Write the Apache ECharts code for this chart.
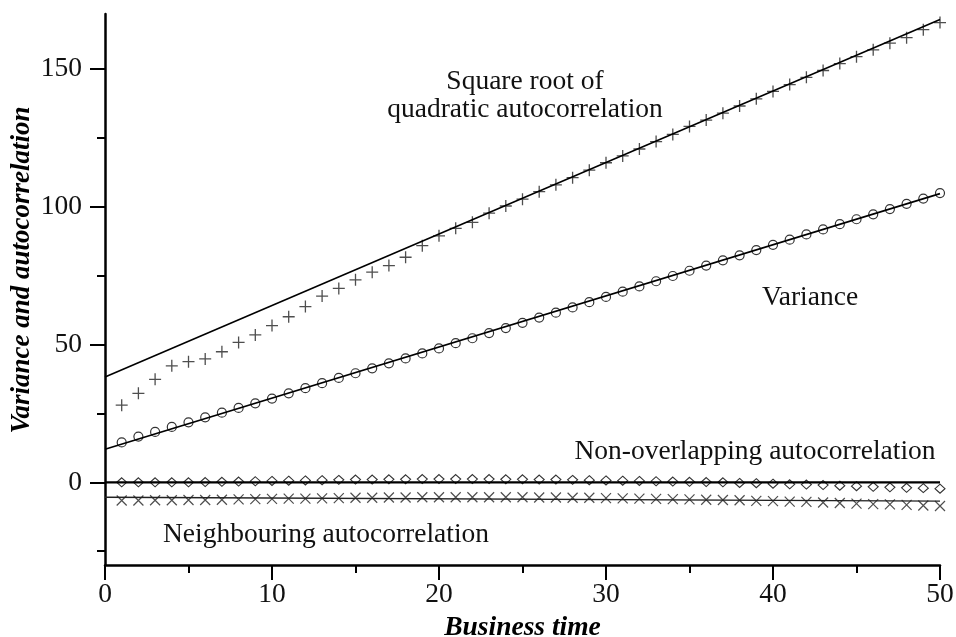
<!DOCTYPE html>
<html>
<head>
<meta charset="utf-8">
<script src="https://cdn.jsdelivr.net/npm/echarts@6/dist/echarts.min.js"></script>
<style>
  html, body { margin: 0; padding: 0; background: #fff; }
  #chart { width: 956px; height: 637px; }
</style>
</head>
<body>
<div id="chart"></div>
<script>
// business time 1..50
const businessTime = [];
for (let t = 1; t <= 50; t++) businessTime.push(t);

// square root of quadratic autocorrelation (+)
const sqrtQuadY = [
  28.0, 32.3, 37.4, 42.3, 43.8, 44.8, 47.4, 50.8, 53.5, 56.9,
  60.1, 63.8, 67.6, 70.4, 73.5, 76.3, 78.7, 81.7, 85.9, 89.5,
  92.2, 94.4, 97.7, 100.3, 102.8, 105.5, 108.0, 110.6, 113.3, 116.0,
  118.5, 121.0, 123.7, 126.3, 129.2, 131.5, 134.0, 136.6, 139.2, 141.9,
  144.4, 147.0, 149.5, 152.0, 154.5, 157.0, 159.4, 161.4, 164.3, 166.9
];
// variance (o)
const varianceY = [
  14.5, 16.6, 18.3, 20.1, 21.8, 23.6, 25.3, 27.0, 28.7, 30.4,
  32.3, 34.2, 36.0, 37.9, 39.6, 41.4, 43.2, 45.0, 46.8, 48.6,
  50.5, 52.3, 54.2, 56.0, 57.9, 59.8, 61.6, 63.5, 65.4, 67.3,
  69.2, 71.1, 73.0, 74.9, 76.8, 78.7, 80.6, 82.4, 84.3, 86.2,
  88.1, 90.0, 91.8, 93.7, 95.5, 97.3, 99.2, 101.1, 103.0, 105.0
];
// non-overlapping autocorrelation (diamond)
const nonOverlapY = [
  0.0, 0.0, 0.0, 0.0, 0.0, 0.1, 0.2, 0.3, 0.4, 0.5,
  0.6, 0.7, 0.8, 0.9, 1.0, 1.0, 1.1, 1.1, 1.2, 1.2,
  1.2, 1.2, 1.2, 1.1, 1.1, 1.0, 1.0, 0.9, 0.8, 0.7,
  0.6, 0.5, 0.4, 0.3, 0.2, 0.1, 0.0, -0.2, -0.3, -0.5,
  -0.7, -0.8, -1.0, -1.2, -1.4, -1.6, -1.8, -2.0, -2.1, -2.3
];
// neighbouring autocorrelation (x)
const neighbourY = [
  -6.6, -6.6, -6.5, -6.5, -6.4, -6.4, -6.3, -6.2, -6.1, -6.0,
  -5.9, -5.9, -5.8, -5.7, -5.6, -5.6, -5.5, -5.5, -5.4, -5.4,
  -5.4, -5.4, -5.4, -5.4, -5.4, -5.5, -5.5, -5.6, -5.6, -5.7,
  -5.8, -5.9, -6.0, -6.1, -6.2, -6.3, -6.4, -6.5, -6.7, -6.8,
  -7.0, -7.1, -7.3, -7.5, -7.7, -7.9, -8.0, -8.2, -8.4, -8.6
];

// fitted straight lines (start, end)
const fitX = [0, 50];
const sqrtQuadFit = [38.2, 168.0];
const varianceFit = [12.0, 104.8];
const nonOverlapFit = [0.0, 0.0];
const neighbourFit = [-5.4, -6.8];

// tick labels
const yLabelValues = [0, 50, 100, 150];
const yMinorValues = [-25, 25, 75, 125];

const serif = "'Liberation Serif', 'DejaVu Serif', serif";
const fs = 27.5;

function pairs(xs, ys) {
  return xs.map((x, i) => [x, ys[i]]);
}

const chart = echarts.init(document.getElementById("chart"));

const option = {
  animation: false,
  backgroundColor: "#fff",
  grid: { left: 105, right: 16, top: 14, bottom: 72, outerBoundsMode: "none", containLabel: false },
  xAxis: {
    type: "value",
    min: 0,
    max: 50,
    interval: 10,
    name: "Business time",
    nameLocation: "middle",
    nameGap: 45,
    nameTextStyle: { fontFamily: serif, fontSize: fs, fontWeight: "bold", fontStyle: "italic", color: "#000" },
    axisLine: { onZero: false, lineStyle: { color: "#000", width: 2.5 } },
    axisTick: { length: 15, lineStyle: { color: "#000", width: 2 } },
    minorTick: { show: true, splitNumber: 2, length: 8, lineStyle: { color: "#000", width: 2 } },
    axisLabel: { margin: 16, fontFamily: serif, fontSize: fs, color: "#111" },
    splitLine: { show: false },
  },
  yAxis: [
    {
      type: "value",
      min: -30,
      max: 170,
      axisLine: { show: true, onZero: false, lineStyle: { color: "#000", width: 2.5 } },
      axisTick: { customValues: yLabelValues, length: 15, lineStyle: { color: "#000", width: 2 } },
      axisLabel: { customValues: yLabelValues, margin: 23, fontFamily: serif, fontSize: fs, color: "#111" },
      splitLine: { show: false },
    },
    {
      type: "value",
      min: -30,
      max: 170,
      position: "left",
      axisLine: { show: false },
      axisTick: { show: true, customValues: yMinorValues, length: 8, lineStyle: { color: "#000", width: 2 } },
      axisLabel: { show: false },
      splitLine: { show: false },
    },
  ],
  graphic: [
    {
      type: "text",
      x: 22,
      y: 270,
      rotation: Math.PI / 2,
      style: {
        text: "Variance and autocorrelation",
        fontFamily: serif, fontSize: 27, fontWeight: "bold", fontStyle: "italic",
        fill: "#000", align: "center", verticalAlign: "middle",
      },
    },
    {
      type: "text", x: 525, y: 82,
      style: { text: "Square root of", fontFamily: serif, fontSize: fs, fill: "#111", align: "center", verticalAlign: "middle" },
    },
    {
      type: "text", x: 525, y: 110,
      style: { text: "quadratic autocorrelation", fontFamily: serif, fontSize: fs, fill: "#111", align: "center", verticalAlign: "middle" },
    },
    {
      type: "text", x: 810, y: 298,
      style: { text: "Variance", fontFamily: serif, fontSize: fs, fill: "#111", align: "center", verticalAlign: "middle" },
    },
    {
      type: "text", x: 755, y: 452,
      style: { text: "Non-overlapping autocorrelation", fontFamily: serif, fontSize: fs, fill: "#111", align: "center", verticalAlign: "middle" },
    },
    {
      type: "text", x: 326, y: 535,
      style: { text: "Neighbouring autocorrelation", fontFamily: serif, fontSize: fs, fill: "#111", align: "center", verticalAlign: "middle" },
    },
  ],
  series: [
    {
      type: "line",
      data: pairs(fitX, sqrtQuadFit),
      showSymbol: false,
      lineStyle: { color: "#000", width: 1.6 },
      z: 3,
    },
    {
      type: "line",
      data: pairs(fitX, varianceFit),
      showSymbol: false,
      lineStyle: { color: "#000", width: 1.6 },
      z: 3,
    },
    {
      type: "line",
      data: pairs(fitX, nonOverlapFit),
      showSymbol: false,
      lineStyle: { color: "#000", width: 2.2 },
      z: 3,
    },
    {
      type: "line",
      data: pairs(fitX, neighbourFit),
      showSymbol: false,
      lineStyle: { color: "#222", width: 1.4 },
      z: 3,
    },
    {
      type: "scatter",
      data: pairs(businessTime, sqrtQuadY),
      symbol: "path://M5,0L5,10M0,5L10,5",
      symbolSize: 12,
      itemStyle: { color: "transparent", borderColor: "#222", borderWidth: 1.3 },
      z: 2,
    },
    {
      type: "scatter",
      data: pairs(businessTime, varianceY),
      symbol: "circle",
      symbolSize: 9,
      itemStyle: { color: "transparent", borderColor: "#000", borderWidth: 1.2 },
      z: 2,
    },
    {
      type: "scatter",
      data: pairs(businessTime, nonOverlapY),
      symbol: "path://M5,0L10,5L5,10L0,5Z",
      symbolSize: [10, 9],
      itemStyle: { color: "transparent", borderColor: "#000", borderWidth: 1.1 },
      z: 2,
    },
    {
      type: "scatter",
      data: pairs(businessTime, neighbourY),
      symbol: "path://M0,0L10,10M10,0L0,10",
      symbolSize: 10,
      itemStyle: { color: "transparent", borderColor: "#222", borderWidth: 1.2 },
      z: 2,
    },
  ],
};

chart.setOption(option);
</script>
</body>
</html>
